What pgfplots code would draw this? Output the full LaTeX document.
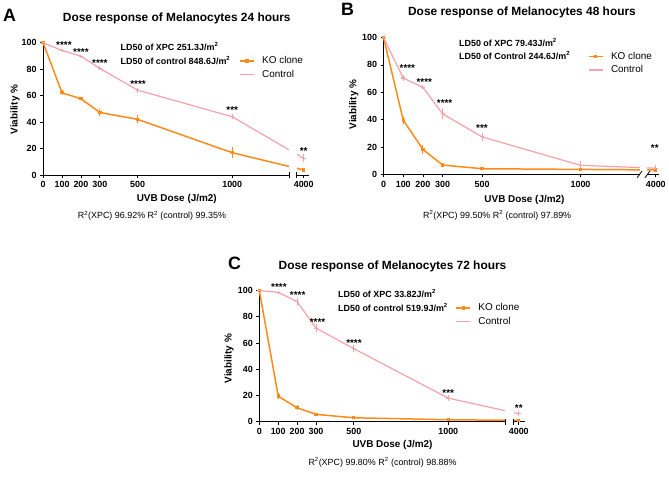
\documentclass[border=0pt]{standalone}
\usepackage{pgfplots}
\pgfplotsset{compat=1.18}
\usepackage{pgfplotstable}
\usepackage{fontspec}
\setmainfont{Liberation Sans}

\definecolor{kocol}{RGB}{255,138,24}
\definecolor{ctcol}{RGB}{246,160,170}

% x = dose on the displayed (broken) axis: 4000 J/m2 is drawn after the break
\pgfplotstableread{
x y e
0 100 0
100 62.2 2
200 57.7 1
300 47.3 3
500 42.1 3
1000 16.9 4
1378 3.8 1
}\tabAko
\pgfplotstableread{
x y e
0 100 0
100 94.2 1.5
200 89.9 1
300 80.6 1.5
500 64.2 2
1000 44.1 2
1378 12.6 3
}\tabAct
\pgfplotstableread{
x y e
0 100 0
100 39.6 2.5
200 18.2 3
300 6.8 1
500 4.1 1
1000 3.6 0.8
1382 3.2 1
}\tabBko
\pgfplotstableread{
x y e
0 100 1
100 70.4 2
200 63.6 1.5
300 44.2 4
500 27.4 3
1000 6.6 3
1382 4.5 2
}\tabBct
\pgfplotstableread{
x y e
0 100 1
100 19.5 2.5
200 10.6 2
300 5.6 1
500 3.0 0.8
1000 1.5 0.5
1373 1.0 0.5
}\tabCko
\pgfplotstableread{
x y e
0 100 0.5
100 98.7 1
200 91.6 3
300 71.4 3
500 55.7 2.5
1000 18.0 2.5
1373 6.1 2
}\tabCct

\pgfplotsset{
  dose/.style={
    set layers, scale only axis, clip=false,
    axis lines=left, axis line style={-, line width=0.9bp, black},
    xmin=0, ymin=0, ymax=100,
    ytick={0,20,40,60,80,100},
    xtick={0,100,200,300,500,1000,#1},
    xticklabels={0,100,200,300,500,1000,4000},
    tick align=outside, major tick length=3bp,
    tick style={black, line width=0.8bp},
    /pgf/number format/assume math mode=true,
    tick label style={font=\bfseries\fontsize{9}{10}\selectfont},
    label style={font=\bfseries\fontsize{10}{12}\selectfont},
    title style={font=\bfseries\fontsize{12}{14}\selectfont, anchor=center},
    xlabel={UVB Dose (J/m2)}, ylabel={Viability \%},
    legend style={draw=none, fill=none, anchor=west, inner sep=0pt,
      nodes={inner sep=0.5bp}, column sep=7bp,
      row sep=4bp, font=\fontsize{10}{11}\selectfont, cells={anchor=west}},
    legend cell align=left,
    legend image code/.code={\draw[mark repeat=2,mark phase=2,##1]
      plot coordinates {(0bp,0bp) (7bp,0bp) (14bp,0bp)};},
  },
  ko/.style={color=kocol, line width=1.5bp, mark=square*, mark size=0.9bp,
    error bars/.cd, y dir=both, y explicit, error mark=none,
    error bar style={line width=1bp, color=kocol}},
  ct/.style={color=ctcol, line width=1.2bp, mark=-, mark size=2bp,
    mark options={line width=1.1bp},
    error bars/.cd, y dir=both, y explicit, error mark=none,
    error bar style={line width=1bp, color=ctcol}},
}
\tikzset{asts/.style={font=\bfseries\fontsize{10}{11}\selectfont, inner sep=0pt, yshift=-2.2bp},
         ld/.style={font=\bfseries\fontsize{9}{10}\selectfont, anchor=west, inner sep=0pt},
         rr/.style={font=\fontsize{9}{10}\selectfont, inner sep=0pt},
         pl/.style={font=\bfseries\fontsize{18}{20}\selectfont, inner sep=0pt}}

\begin{document}
\begin{tikzpicture}
\path (0bp,0bp) rectangle (669bp,478bp);

%%%%%%%%%%%%%%%% A
\begin{axis}[dose=1378,
  at={(43.3bp,302.3bp)}, anchor=south west,
  width=266.7bp, height=132.7bp, xmax=1405,
  title={Dose response of Melanocytes 24 hours},
  title style={at={(axis description cs:0.503,1.136)}},
  xlabel style={at={(axis description cs:0.503,-0.183)}, anchor=center},
  ylabel style={at={(axis description cs:-0.106,0.495)}, anchor=center},
  legend style={at={(axis description cs:0.7375,0.812)}},
]
\addplot[ko] table[x=x,y=y,y error=e] {\tabAko};
\addlegendentry{KO clone}
\addplot[ct] table[x=x,y=y,y error=e] {\tabAct};
\addlegendentry{Control}
\fill[white] (axis cs:1300,-2) rectangle (axis cs:1340,45);
\draw[black,line width=0.8bp] (axis cs:1300,0) ++(0,-3bp) -- ++(0,6bp);
\draw[black,line width=0.8bp] (axis cs:1340,0) ++(0,-3bp) -- ++(0,6bp);
\node[asts] at (axis cs:110,100) {****};
\node[asts] at (axis cs:200,95) {****};
\node[asts] at (axis cs:300,86) {****};
\node[asts] at (axis cs:502,70.5) {****};
\node[asts] at (axis cs:1000,51) {***};
\node[asts] at (axis cs:1378,20) {**};
\end{axis}

%%%%%%%%%%%%%%%% B
\begin{axis}[dose=1382,
  at={(385bp,303bp)}, anchor=south west,
  width=276.8bp, height=137.3bp, xmax=1400,
  title={Dose response of Melanocytes 48 hours},
  title style={at={(axis description cs:0.502,1.141)}},
  xlabel style={at={(axis description cs:0.511,-0.189)}, anchor=center},
  ylabel style={at={(axis description cs:-0.108,0.51)}, anchor=center},
  legend style={at={(axis description cs:0.741,0.813)}},
]
\addplot[ko] table[x=x,y=y,y error=e] {\tabBko};
\addlegendentry{KO clone}
\addplot[ct] table[x=x,y=y,y error=e] {\tabBct};
\addlegendentry{Control}
\fill[white] (axis cs:1300,-2) rectangle (axis cs:1340,30);
\draw[black,line width=0.8bp] (axis cs:1300,0) ++(-2.5bp,-3.5bp) -- ++(5bp,7bp);
\draw[black,line width=0.8bp] (axis cs:1340,0) ++(-2.5bp,-3.5bp) -- ++(5bp,7bp);
\node[asts] at (axis cs:121,79.6) {****};
\node[asts] at (axis cs:207,69) {****};
\node[asts] at (axis cs:310,54) {****};
\node[asts] at (axis cs:500,35.7) {***};
\node[asts] at (axis cs:1377,20.6) {**};
\end{axis}

%%%%%%%%%%%%%%%% C
\begin{axis}[dose=1373,
  at={(260.3bp,54.7bp)}, anchor=south west,
  width=266.3bp, height=131.6bp, xmax=1404,
  title={Dose response of Melanocytes 72 hours},
  title style={at={(axis description cs:0.502,1.140)}},
  xlabel style={at={(axis description cs:0.502,-0.178)}, anchor=center},
  ylabel style={at={(axis description cs:-0.114,0.481)}, anchor=center},
  legend style={at={(axis description cs:0.739,0.815)}},
]
\addplot[ko] table[x=x,y=y,y error=e] {\tabCko};
\addlegendentry{KO clone}
\addplot[ct] table[x=x,y=y,y error=e] {\tabCct};
\addlegendentry{Control}
\fill[white] (axis cs:1302,-2) rectangle (axis cs:1346,30);
\draw[black,line width=0.8bp] (axis cs:1302,0) ++(0,-3bp) -- ++(0,6bp);
\draw[black,line width=0.8bp] (axis cs:1346,0) ++(0,-3bp) -- ++(0,6bp);
\node[asts] at (axis cs:104,104) {****};
\node[asts] at (axis cs:203,98) {****};
\node[asts] at (axis cs:308,78) {****};
\node[asts] at (axis cs:501,61.5) {****};
\node[asts] at (axis cs:1000,23.8) {***};
\node[asts] at (axis cs:1373,11.8) {**};
\end{axis}

%%%%%%%%%%%%%%%% texts
\node[pl] at (9.5bp,462.5bp) {A};
\node[pl] at (349bp,469bp) {B};
\node[pl] at (235.5bp,214bp) {C};

\node[ld] at (121bp,431bp) {LD50 of XPC 251.3J/m\textsuperscript{2}};
\node[ld] at (121bp,417bp) {LD50 of control 848.6J/m\textsuperscript{2}};
\node[ld] at (460.7bp,435.7bp) {LD50 of XPC 79.43J/m\textsuperscript{2}};
\node[ld] at (460.7bp,422bp) {LD50 of Control 244.6J/m\textsuperscript{2}};
\node[ld] at (339.3bp,183.7bp) {LD50 of XPC 33.82J/m\textsuperscript{2}};
\node[ld] at (339.3bp,169.7bp) {LD50 of control 519.9J/m\textsuperscript{2}};

\node[rr] at (152.5bp,261.3bp) {R\textsuperscript{2}(XPC) 96.92\% R\textsuperscript{2} (control) 99.35\%};
\node[rr] at (499bp,262bp) {R\textsuperscript{2}(XPC) 99.50\% R\textsuperscript{2} (control) 97.89\%};
\node[rr] at (384bp,13.7bp) {R\textsuperscript{2}(XPC) 99.80\% R\textsuperscript{2} (control) 98.88\%};
\end{tikzpicture}
\end{document}
